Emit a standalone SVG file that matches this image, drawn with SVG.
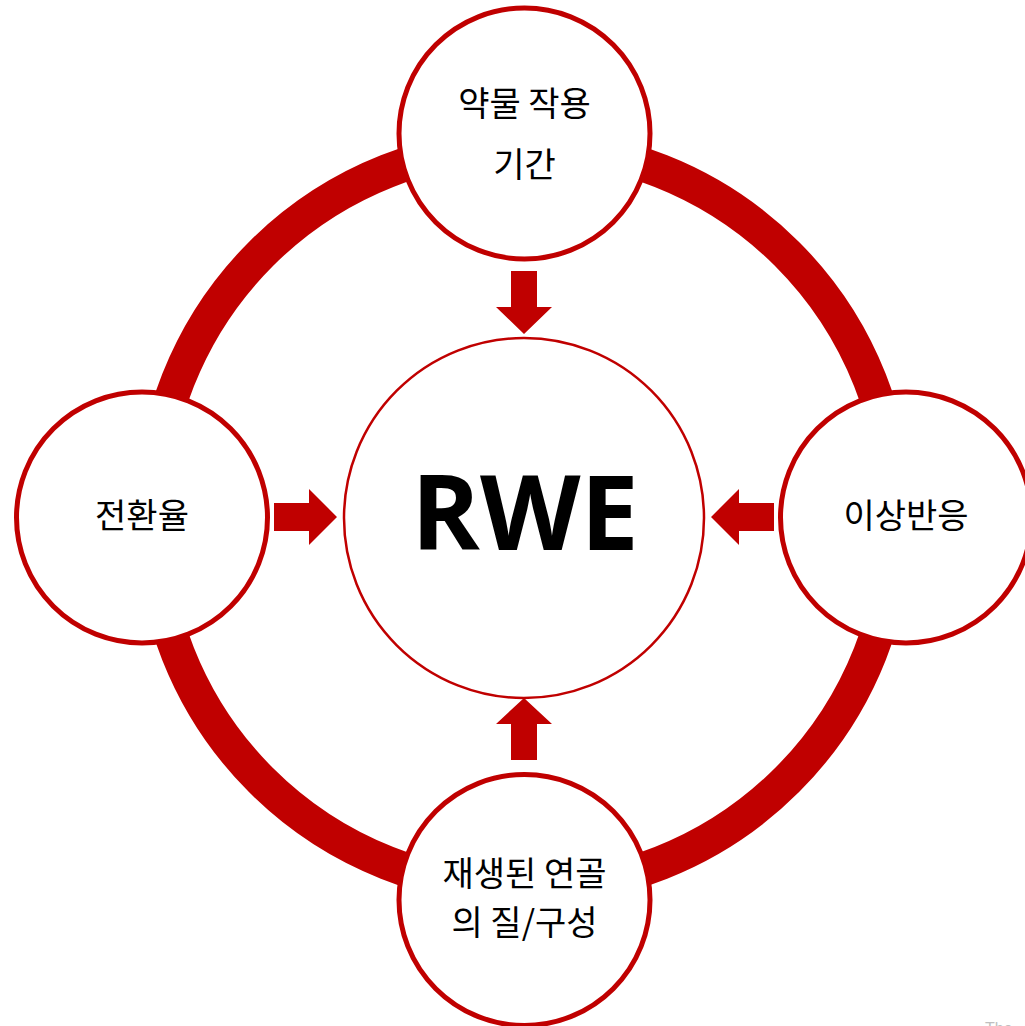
<svg xmlns="http://www.w3.org/2000/svg" width="1025" height="1026" viewBox="0 0 1025 1026">
<style>
.ring{fill:none;stroke:#C00000;stroke-width:34}
.node{fill:#ffffff;stroke:#C00000;stroke-width:5}
.core{fill:#ffffff;stroke:#C00000;stroke-width:2.5}
.arrow{fill:#C00000}
.lbl{font-family:"Noto Sans CJK KR","Noto Sans",sans-serif;font-size:34px;fill:#000000;text-anchor:middle}
.big{font-family:"Open Sans","Liberation Sans",sans-serif;font-weight:bold;font-size:104px;fill:#000000;text-anchor:middle}
</style>
<rect width="1025" height="1026" fill="#ffffff"/>
<circle class="ring" cx="524" cy="517" r="372"/>
<g id="connectors">
<polygon class="arrow" points="511,271 537,271 537,307 552,307 524,334 496,307 511,307"/>
<polygon class="arrow" points="524,698 552,724 537,724 537,760 511,760 511,724 496,724"/>
<polygon class="arrow" points="274,503 309,503 309,489 337,517 309,545 309,531 274,531"/>
<polygon class="arrow" points="711,517 739,489 739,503 774,503 774,531 739,531 739,545"/>
</g>
<g id="node-rwe">
<circle class="core" cx="524" cy="518" r="180"/>
<text class="big" x="525" y="550">RWE</text>
</g>
<g id="node-top">
<circle class="node" cx="524.5" cy="133.5" r="125.5"/>
<text class="lbl" x="524.5" y="116">약물 작용</text>
<text class="lbl" x="524.5" y="177">기간</text>
</g>
<g id="node-left">
<circle class="node" cx="142" cy="517.5" r="125.5"/>
<text class="lbl" x="142" y="528">전환율</text>
</g>
<g id="node-right">
<circle class="node" cx="906" cy="517.5" r="125.5"/>
<text class="lbl" x="906" y="528">이상반응</text>
</g>
<g id="node-bottom">
<circle class="node" cx="524.5" cy="900" r="125.5"/>
<text class="lbl" x="524.5" y="886">재생된 연골</text>
<text class="lbl" x="524.5" y="935">의 질/구성</text>
</g>
<text x="985" y="1034" font-family="Liberation Sans, sans-serif" font-size="16" fill="#bfbfbf">The</text>
</svg>
